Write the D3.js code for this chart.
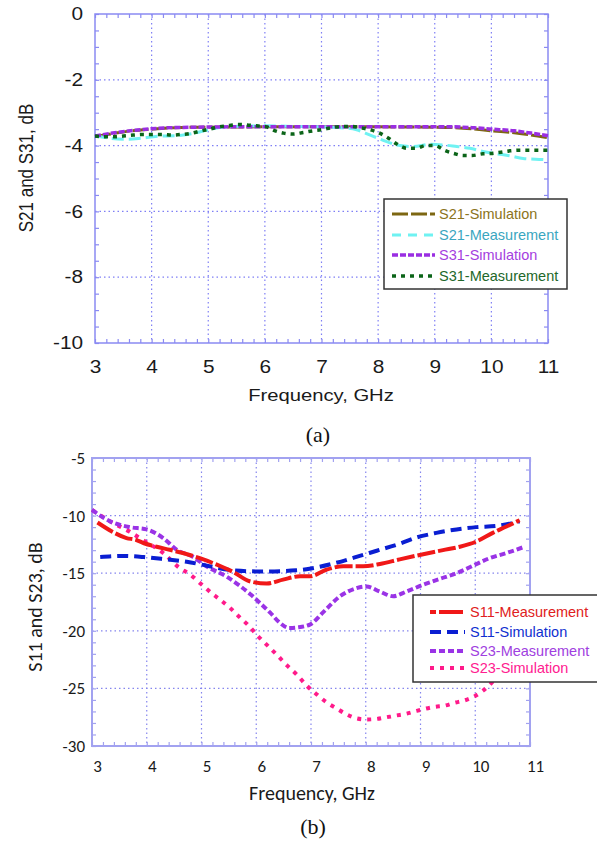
<!DOCTYPE html>
<html>
<head>
<meta charset="utf-8">
<script src="https://cdn.jsdelivr.net/npm/d3@7"></script>
<style>
  body { margin: 0; background: #fff; }
</style>
</head>
<body>
<div id="canvas"></div>
<script>
// ---- data ----
var freqTicks = [3, 4, 5, 6, 7, 8, 9, 10, 11];
var dbTicksA = [0, -2, -4, -6, -8, -10];
var dbTicksB = [-5, -10, -15, -20, -25, -30];

// panel (a): [GHz, dB]
var s21Sim = [[3,-3.72],[3.3,-3.64],[3.6,-3.56],[4,-3.5],[4.5,-3.45],[5,-3.44],[6,-3.43],[7,-3.43],[8,-3.43],[9,-3.44],[9.5,-3.47],[10,-3.55],[10.5,-3.63],[11,-3.76]];
var s21Meas = [[3,-3.7],[3.1,-3.73],[3.27,-3.78],[3.56,-3.81],[3.8,-3.78],[4.03,-3.73],[4.56,-3.68],[4.86,-3.58],[5.1,-3.48],[5.45,-3.42],[6,-3.4],[6.6,-3.42],[7,-3.43],[7.3,-3.45],[7.62,-3.52],[7.86,-3.68],[8.15,-3.88],[8.39,-4.0],[8.62,-4.03],[8.92,-3.96],[9.15,-3.98],[9.39,-4.03],[9.62,-4.08],[9.85,-4.18],[10.1,-4.25],[10.33,-4.31],[10.56,-4.39],[10.9,-4.42],[11,-4.43]];
var s31Sim = [[3,-3.71],[3.27,-3.63],[3.56,-3.56],[3.85,-3.51],[4.27,-3.46],[4.8,-3.44],[5.5,-3.43],[6.5,-3.43],[7.5,-3.43],[8.5,-3.43],[9.3,-3.43],[9.7,-3.46],[10,-3.5],[10.4,-3.55],[10.7,-3.62],[11,-3.7]];
var s31Meas = [[3,-3.71],[3.2,-3.73],[3.35,-3.73],[3.5,-3.71],[3.68,-3.68],[3.85,-3.66],[4.2,-3.66],[4.36,-3.68],[4.53,-3.66],[4.69,-3.63],[4.86,-3.56],[5.02,-3.5],[5.2,-3.43],[5.36,-3.39],[5.52,-3.36],[5.68,-3.37],[5.85,-3.4],[6.03,-3.43],[6.15,-3.53],[6.33,-3.62],[6.5,-3.65],[6.68,-3.6],[6.85,-3.55],[7.0,-3.52],[7.19,-3.45],[7.36,-3.42],[7.52,-3.42],[7.67,-3.45],[7.86,-3.52],[8.0,-3.6],[8.17,-3.76],[8.33,-3.95],[8.51,-4.08],[8.68,-4.08],[8.84,-4.0],[9.0,-4.0],[9.18,-4.15],[9.34,-4.24],[9.5,-4.3],[9.66,-4.3],[9.85,-4.25],[10.0,-4.24],[10.17,-4.2],[10.33,-4.16],[10.52,-4.14],[10.84,-4.14],[11,-4.14]];

// panel (b): [GHz, dB]
var s11Meas = [[3.1,-10.6],[3.39,-11.45],[3.63,-11.95],[3.8,-12.1],[3.95,-12.4],[4.18,-12.7],[4.42,-12.97],[4.66,-13.25],[4.97,-13.7],[5.28,-14.26],[5.58,-14.9],[5.88,-15.7],[6.19,-15.9],[6.49,-15.56],[6.8,-15.27],[6.98,-15.27],[7.28,-14.7],[7.59,-14.4],[7.95,-14.4],[8.26,-14.2],[8.62,-13.8],[9.05,-13.35],[9.41,-13.0],[9.72,-12.7],[10.02,-12.25],[10.32,-11.5],[10.57,-10.95],[10.81,-10.4]];
var s11Sim = [[3.15,-13.6],[3.57,-13.5],[3.95,-13.6],[4.36,-13.8],[4.73,-14.0],[5.1,-14.35],[5.58,-14.75],[6.1,-14.85],[6.73,-14.75],[7.1,-14.5],[7.46,-14.1],[7.89,-13.5],[8.2,-13.05],[8.62,-12.45],[8.93,-11.9],[9.29,-11.5],[9.66,-11.2],[10.02,-11.0],[10.38,-10.9],[10.81,-10.5]];
var s23Meas = [[3.0,-9.5],[3.33,-10.5],[3.69,-11.0],[4.0,-11.2],[4.3,-11.95],[4.55,-12.97],[4.85,-13.6],[5.09,-14.4],[5.46,-15.3],[5.7,-16.1],[5.91,-16.9],[6.07,-17.6],[6.25,-18.4],[6.43,-19.3],[6.6,-19.75],[6.76,-19.7],[6.98,-19.46],[7.22,-18.4],[7.53,-17.0],[7.83,-16.3],[8.01,-16.15],[8.26,-16.6],[8.5,-17.0],[8.74,-16.6],[9.05,-16.0],[9.35,-15.5],[9.66,-15.0],[9.96,-14.35],[10.26,-13.7],[10.57,-13.25],[10.9,-12.7]];
var s23Sim = [[3.0,-9.5],[3.33,-10.5],[3.69,-11.4],[3.92,-12.1],[4.3,-13.25],[4.6,-14.55],[4.79,-15.1],[4.97,-15.85],[5.15,-16.6],[5.34,-17.3],[5.52,-18.0],[5.67,-18.7],[5.85,-19.5],[6.03,-20.45],[6.22,-21.35],[6.4,-22.2],[6.56,-23.0],[6.74,-23.8],[6.92,-24.75],[7.1,-25.5],[7.28,-26.2],[7.47,-26.75],[7.65,-27.25],[7.83,-27.6],[8.01,-27.7],[8.2,-27.65],[8.38,-27.5],[8.56,-27.35],[8.74,-27.2],[8.93,-26.95],[9.1,-26.75],[9.26,-26.6],[9.44,-26.5],[9.62,-26.25],[9.8,-26.05],[9.96,-25.75],[10.14,-25.2],[10.3,-24.5],[10.5,-23.3],[10.8,-21.5]];

var w = 597, h = 843;

var svg = d3.select("#canvas")
    .append("svg")
    .attr("width", w)
    .attr("height", h)
    .style("display", "block")
    .style("background", "#fff");

// plain hyphen minus, like the original figure
var fmt = d => String(d);

// draws one panel: grid, frame, ticks, labels, series, legend
function drawPanel(p) {
    var x = d3.scaleLinear().domain([3, 11]).range([p.left, p.right]);
    var y = d3.scaleLinear().domain(p.yDomain).range([p.bottom, p.top]);
    var g = svg.append("g");

    // dotted grid at major ticks
    g.selectAll(".vg").data(freqTicks.slice(1, -1)).join("line")
        .attr("x1", d => x(d)).attr("x2", d => x(d))
        .attr("y1", p.top).attr("y2", p.bottom)
        .attr("stroke", p.gridColor).attr("stroke-width", 1.2)
        .attr("stroke-dasharray", "1.5,3");
    g.selectAll(".hg").data(p.yTicks.slice(1, -1)).join("line")
        .attr("x1", p.left).attr("x2", p.right)
        .attr("y1", d => y(d)).attr("y2", d => y(d))
        .attr("stroke", p.gridColor).attr("stroke-width", 1.2)
        .attr("stroke-dasharray", "1.5,3");

    // minor ticks pointing inward on all four sides
    var minorX = d3.range(3, 11.001, 0.2);
    var minorY = d3.range(p.yDomain[0], p.yDomain[1] + 0.001, p.yMinor);
    function styleTicks(sel) {
        sel.select(".domain").remove();
        sel.selectAll("line").attr("stroke", p.frameColor).attr("stroke-width", 1.2);
    }
    g.append("g").attr("transform", `translate(0,${p.bottom})`)
        .call(d3.axisBottom(x).tickValues(minorX).tickSize(-4).tickFormat("")).call(styleTicks);
    g.append("g").attr("transform", `translate(0,${p.top})`)
        .call(d3.axisTop(x).tickValues(minorX).tickSize(-4).tickFormat("")).call(styleTicks);
    g.append("g").attr("transform", `translate(${p.left},0)`)
        .call(d3.axisLeft(y).tickValues(minorY).tickSize(-4).tickFormat("")).call(styleTicks);
    g.append("g").attr("transform", `translate(${p.right},0)`)
        .call(d3.axisRight(y).tickValues(minorY).tickSize(-4).tickFormat("")).call(styleTicks);

    // frame
    g.append("rect")
        .attr("x", p.left).attr("y", p.top)
        .attr("width", p.right - p.left).attr("height", p.bottom - p.top)
        .attr("fill", "none").attr("stroke", p.frameColor).attr("stroke-width", p.frameWidth);

    // tick labels
    var xl = g.append("g").attr("transform", `translate(0,${p.bottom})`)
        .call(d3.axisBottom(x).tickValues(freqTicks).tickFormat(fmt).tickSize(0).tickPadding(p.xPad));
    xl.select(".domain").remove();
    xl.selectAll("text")
        .attr("font-family", p.tickFont).attr("font-size", p.tickSize)
        .attr("fill", "#1a1a1a")
        .attr("dx", p.xLabelShift)
        .attr("transform", `scale(${p.stretch},1)`);

    var yl = g.append("g").attr("transform", `translate(${p.left},0)`)
        .call(d3.axisLeft(y).tickValues(p.yTicks).tickFormat(fmt).tickSize(0).tickPadding(p.yPad));
    yl.select(".domain").remove();
    yl.selectAll("text")
        .attr("font-family", p.tickFont).attr("font-size", p.tickSize)
        .attr("fill", "#1a1a1a")
        .attr("transform", `scale(${p.stretch},1)`);

    // axis titles
    g.append("text")
        .attr("transform", `translate(${p.xTitle[0]},${p.xTitle[1]}) scale(${p.stretch},1)`)
        .attr("text-anchor", "middle")
        .attr("font-family", p.tickFont).attr("font-size", p.titleSize)
        .attr("fill", "#1a1a1a")
        .text("Frequency, GHz");
    g.append("text")
        .attr("transform", `translate(${p.yTitle[0]},${p.yTitle[1]}) scale(${p.stretch},1) rotate(-90)`)
        .attr("text-anchor", "middle")
        .attr("font-family", p.tickFont).attr("font-size", p.titleSize)
        .attr("fill", "#1a1a1a")
        .text(p.yLabel);

    // series
    var line = d3.line()
        .x(d => x(d[0]))
        .y(d => y(d[1]))
        .curve(d3.curveMonotoneX);
    g.selectAll(".series").data(p.series).join("path")
        .attr("d", d => line(d.values))
        .attr("fill", "none")
        .attr("stroke", d => d.color)
        .attr("stroke-width", d => d.width)
        .attr("stroke-dasharray", d => d.dash);

    // legend
    var L = p.legend;
    g.append("rect")
        .attr("x", L.x).attr("y", L.y).attr("width", L.w).attr("height", L.h)
        .attr("fill", "#fff").attr("stroke", "#333").attr("stroke-width", 1.5);
    var rows = g.selectAll(".leg").data(p.legendOrder.map(i => p.series[i])).join("g")
        .attr("transform", (d, i) => `translate(0,${L.rows[i]})`);
    rows.append("line")
        .attr("x1", L.x1).attr("x2", L.x2)
        .attr("stroke", d => d.color)
        .attr("stroke-width", d => d.width)
        .attr("stroke-dasharray", d => d.legendDash || d.dash);
    rows.append("text")
        .attr("x", L.tx).attr("dy", "0.35em")
        .attr("font-family", "Liberation Sans, Arial, sans-serif")
        .attr("font-size", L.fontSize)
        .attr("fill", d => d.textColor)
        .text(d => d.name);

    // caption
    svg.append("text")
        .attr("x", p.caption[0]).attr("y", p.caption[1])
        .attr("text-anchor", "middle")
        .attr("font-family", "Liberation Serif, Times New Roman, serif")
        .attr("font-size", 22)
        .attr("fill", "#111")
        .text(p.captionText);
}

// panel (a)
drawPanel({
    left: 95, right: 548, top: 14, bottom: 343,
    yDomain: [-10, 0], yTicks: dbTicksA, yMinor: 0.5,
    gridColor: "#7f7ff5", frameColor: "#8a8af2", frameWidth: 1.5,
    tickFont: "Liberation Sans, Arial, sans-serif", tickSize: 17.5, titleSize: 17,
    stretch: 1.19, xPad: 18, yPad: 10, xLabelShift: 0,
    xTitle: [321, 401], yTitle: [33, 168],
    yLabel: "S21 and S31, dB",
    series: [
        { name: "S21-Simulation", values: s21Sim, color: "#7d6712", textColor: "#8c7420", width: 3, dash: "16,3" },
        { name: "S21-Measurement", values: s21Meas, color: "#6ff2f2", textColor: "#3aa6c0", width: 3, dash: "12,5", legendDash: "9,7" },
        { name: "S31-Simulation", values: s31Sim, color: "#9a2ee2", textColor: "#a43ee0", width: 3.5, dash: "6,2" },
        { name: "S31-Measurement", values: s31Meas, color: "#0b6418", textColor: "#22682a", width: 3.5, dash: "4,5" }
    ],
    legendOrder: [0, 1, 2, 3],
    legend: { x: 384, y: 199, w: 183, h: 90, rows: [214, 235, 255, 276], x1: 392, x2: 435, tx: 439, fontSize: 14.5 },
    caption: [318, 442], captionText: "(a)"
});

// panel (b)
drawPanel({
    left: 92, right: 530, top: 458, bottom: 746,
    yDomain: [-30, -5], yTicks: dbTicksB, yMinor: 1,
    gridColor: "#8585ee", frameColor: "#a2a2f0", frameWidth: 2,
    tickFont: "Carlito, Lato, sans-serif", tickSize: 17, titleSize: 20,
    stretch: 1, xPad: 14, yPad: 7, xLabelShift: 5,
    xTitle: [312, 800], yTitle: [42, 607],
    yLabel: "S11 and S23, dB",
    series: [
        { name: "S23-Simulation", values: s23Sim, color: "#ff1a8a", textColor: "#ff2090", width: 4, dash: "4,6" },
        { name: "S23-Measurement", values: s23Meas, color: "#9a33e6", textColor: "#a040e0", width: 4, dash: "6,3" },
        { name: "S11-Simulation", values: s11Sim, color: "#0a1ed2", textColor: "#1030d0", width: 4, dash: "11,6" },
        { name: "S11-Measurement", values: s11Meas, color: "#f01818", textColor: "#e02020", width: 4, dash: "18,3", legendDash: "6,3,24,3" }
    ],
    legendOrder: [3, 2, 1, 0],
    legend: { x: 413, y: 595, w: 186, h: 87, rows: [612, 632, 651, 668], x1: 430, x2: 465, tx: 470, fontSize: 14.5 },
    caption: [313, 834], captionText: "(b)"
});
</script>
</body>
</html>
